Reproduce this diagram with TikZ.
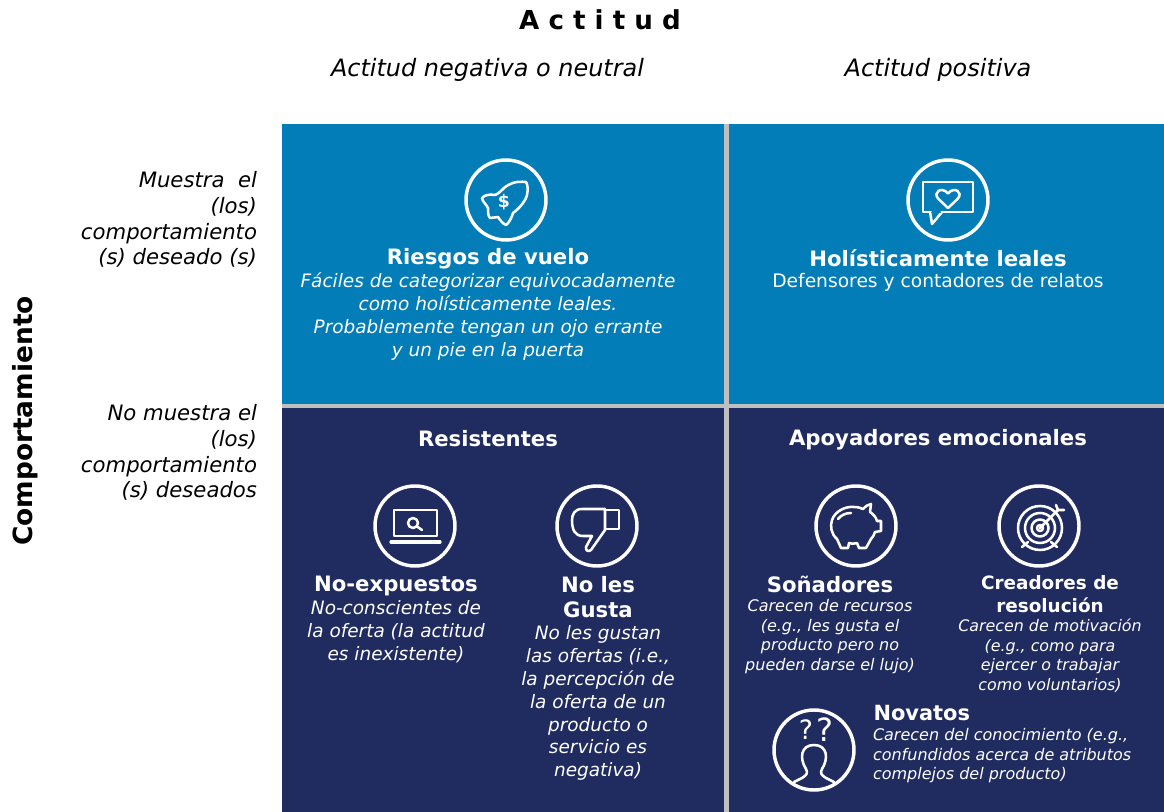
\documentclass[tikz,border=0pt]{standalone}
\usepackage{fontspec}
\setmainfont{DejaVu Sans}
\definecolor{cblue}{HTML}{027DB8}
\definecolor{cnavy}{HTML}{202B60}
\definecolor{cgrey}{HTML}{BFBFBF}
\newcommand{\fs}[2]{\fontsize{#1pt}{#2pt}\selectfont}
\tikzset{
  ring/.style={draw=white,line width=2.6pt},
  ico/.style={draw=white,line width=1.9pt,line join=round,line cap=round},
  txt/.style={inner sep=0pt,outer sep=0pt,align=center,text=white},
  dark/.style={inner sep=0pt,outer sep=0pt,align=center,text=black},
  head/.style={txt,font=\fs{15.9}{18.6}\bfseries},
  body/.style={txt,font=\fs{13.85}{17.2}\itshape},
  small/.style={txt,font=\fs{12}{14.6}\itshape},
  side/.style={dark,align=right,anchor=east,font=\fs{15.9}{19.4}\itshape}
}
\begin{document}
\begin{tikzpicture}[x=0.75pt,y=-0.75pt]
\useasboundingbox (0,0) rectangle (1164,812);
\fill[white] (0,0) rectangle (1164,812);
% panels
\fill[cblue] (282,124) rectangle (724,404);
\fill[cblue] (729,124) rectangle (1164,404);
\fill[cnavy] (282,408) rectangle (724,812);
\fill[cnavy] (729,408) rectangle (1164,812);
\fill[cgrey] (724,124) rectangle (729,812);
\fill[cgrey] (282,404) rectangle (1164,408);
% outer labels
\node[dark,font=\fs{19.6}{22}\bfseries] (titulo) at (600,20) {A c t i t u d};
\node[dark,font=\fs{17.95}{22}\itshape] (colneg) at (487.5,70) {Actitud negativa o neutral};
\node[dark,font=\fs{17.95}{22}\itshape] (colpos) at (938,70) {Actitud positiva};
\node[dark,font=\fs{19.8}{22}\bfseries,rotate=90] (comp) at (25,421) {Comportamiento};
\node[side] (filasi) at (257,219.5) {Muestra\ \ el\\(los)\\comportamiento\\(s) deseado (s)};
\node[side] (filano) at (257,452.5) {No muestra el\\(los)\\comportamiento\\(s) deseados};
% rocket
\begin{scope}[shift={(506,200)}]
\draw[ring] (0,0) circle (40);
\draw[ico] (20,-18) .. controls (10,-19) and (4,-17) .. (-2,-12) .. controls (-5,-9) and (-8,-6) .. (-11,-5)
  .. controls (-16,-6) and (-22,-5) .. (-24,-2) .. controls (-24,1) and (-20,4) .. (-18,8)
  .. controls (-18,12) and (-18,16) .. (-16,18) .. controls (-13,18) and (-10,17) .. (-8,17)
  .. controls (-6,20) and (-3,24) .. (0,25) .. controls (3,23) and (6,17) .. (7,13)
  .. controls (14,8) and (20,0) .. (21,-5) .. controls (22,-10) and (22,-15) .. (20,-18) -- cycle;
\node[txt,font=\fs{13}{14}\bfseries] (dolar) at (-2,2) {\$};
\end{scope}
% speech bubble with heart
\begin{scope}[shift={(948,200)}]
\draw[ring] (0,0) circle (40);
\draw[ico] (-25,-18) rectangle (25,12);
\draw[ico,fill=cblue] (-6,12) -- (-16,24) -- (-18,12);
\draw[ico,draw=cblue] (-15.5,12) -- (-8,12);
\draw[ico] (0,8) -- (-9.5,-1) .. controls (-16,-8) and (-6,-14) .. (0,-6.5) .. controls (6,-14) and (16,-8) .. (9.5,-1) -- cycle;
\end{scope}
% laptop
\begin{scope}[shift={(415,526)}]
\draw[ring] (0,0) circle (40);
\draw[ico] (-21,-16) rectangle (22,10);
\draw[ico,line width=2.4pt] (-24,16) -- (25,16);
\draw[ico] (-2,-3) circle (5);
\draw[ico] (1.8,0.3) -- (7,4);
\end{scope}
% thumb down
\begin{scope}[shift={(597,526)}]
\draw[ring] (0,0) circle (40);
\draw[ico] (8,-16) -- (22,-16) -- (22,3) -- (8,3);
\draw[ico] (8,-17) -- (-15,-17) .. controls (-22,-17) and (-25,-12) .. (-25,-6) .. controls (-25,4) and (-22,10) .. (-14,10)
  -- (-5,10) -- (-11,21) .. controls (-12,25) and (-8,26) .. (-6,24) -- (8,4) -- cycle;
\end{scope}
% piggy bank
\begin{scope}[shift={(856,526)}]
\draw[ring] (0,0) circle (40);
\draw[ico] (25,-5) -- (25,5) -- (19,6) .. controls (18,9) and (17,11) .. (15,13) -- (10,22) -- (3,22) -- (1,17)
  .. controls (-2,18) and (-5,18) .. (-7,17) -- (-8,22) -- (-15,22) -- (-19,13)
  .. controls (-25,8) and (-26,0) .. (-24,-6) .. controls (-21,-15) and (-10,-20) .. (-2,-19)
  .. controls (2,-19) and (5,-18) .. (7,-17) .. controls (9,-20) and (12,-21) .. (15,-22) -- (14,-14)
  .. controls (17,-12) and (20,-9) .. (21,-5) -- cycle;
\draw[ico] (-18,-7) .. controls (-15,-11) and (-10,-13) .. (-5,-13);
\end{scope}
% target
\begin{scope}[shift={(1039,526)}]
\draw[ring] (0,0) circle (40);
\draw[ico] (1,2) circle (22);
\draw[ico] (1,2) circle (15);
\draw[ico] (1,2) circle (8.5);
\draw[ico] (1,2) circle (3);
\draw[ico] (1,2) -- (19,-16);
\draw[ico] (17,-21) -- (19,-16) -- (25,-16);
\draw[ico] (-17,21) -- (-11,16);
\draw[ico] (18,21) -- (12,16);
\end{scope}
% novice
\begin{scope}[shift={(814,750)}]
\draw[ring] (0,0) circle (40);
\draw[ico] (-20,32) -- (-12,28) .. controls (-7,25) and (-6,23) .. (-8,19) .. controls (-15,8) and (-13,-5) .. (0,-5)
  .. controls (13,-5) and (15,8) .. (8,19) .. controls (6,23) and (7,25) .. (12,28) -- (20,32);
\node[txt,font=\fs{20}{22}] (qa) at (-8,-20) {?};
\node[txt,font=\fs{24}{26}] (qb) at (11,-20) {?};
\end{scope}
% top left
\node[head] (riesgos) at (488,258.5) {Riesgos de vuelo};
\node[body] (riesgostxt) at (488,316.5) {Fáciles de categorizar equivocadamente\\como holísticamente leales.\\Probablemente tengan un ojo errante\\y un pie en la puerta};
% top right
\node[head] (holis) at (938,258) {Holísticamente leales};
\node[body,font=\fs{14}{17.2}\normalfont] (holistxt) at (938,282) {Defensores y contadores de relatos};
% bottom left
\node[head] (resist) at (488,438.5) {Resistentes};
\node[head] (noexp) at (396,586) {No-expuestos};
\node[body] (noexptxt) at (396,632) {No-conscientes de\\la oferta (la actitud\\es inexistente)};
\node[head] (nogusta) at (598,597) {No les\\Gusta};
\node[body] (nogustatxt) at (598,703) {No les gustan\\las ofertas (i.e.,\\la percepción de\\la oferta de un\\producto o\\servicio es\\negativa)};
% bottom right
\node[head] (apoy) at (938,439.5) {Apoyadores emocionales};
\node[head] (sonad) at (830,584) {Soñadores};
\node[small] (sonadtxt) at (830,636.5) {Carecen de recursos\\(e.g., les gusta el\\producto pero no\\pueden darse el lujo)};
\node[head,font=\fs{13.8}{17}\bfseries] (creadores) at (1050,594) {Creadores de\\resolución};
\node[small,font=\fs{11.9}{14.6}\itshape] (creadorestxt) at (1050,655.5) {Carecen de motivación\\(e.g., como para\\ejercer o trabajar\\como voluntarios)};
\node[head,font=\fs{15.7}{18}\bfseries,anchor=west] (novatos) at (873.5,713.5) {Novatos};
\node[small,anchor=west,align=left] (novatostxt) at (873,756) {Carecen del conocimiento (e.g.,\\confundidos acerca de atributos\\complejos del producto)};
\end{tikzpicture}
\end{document}
